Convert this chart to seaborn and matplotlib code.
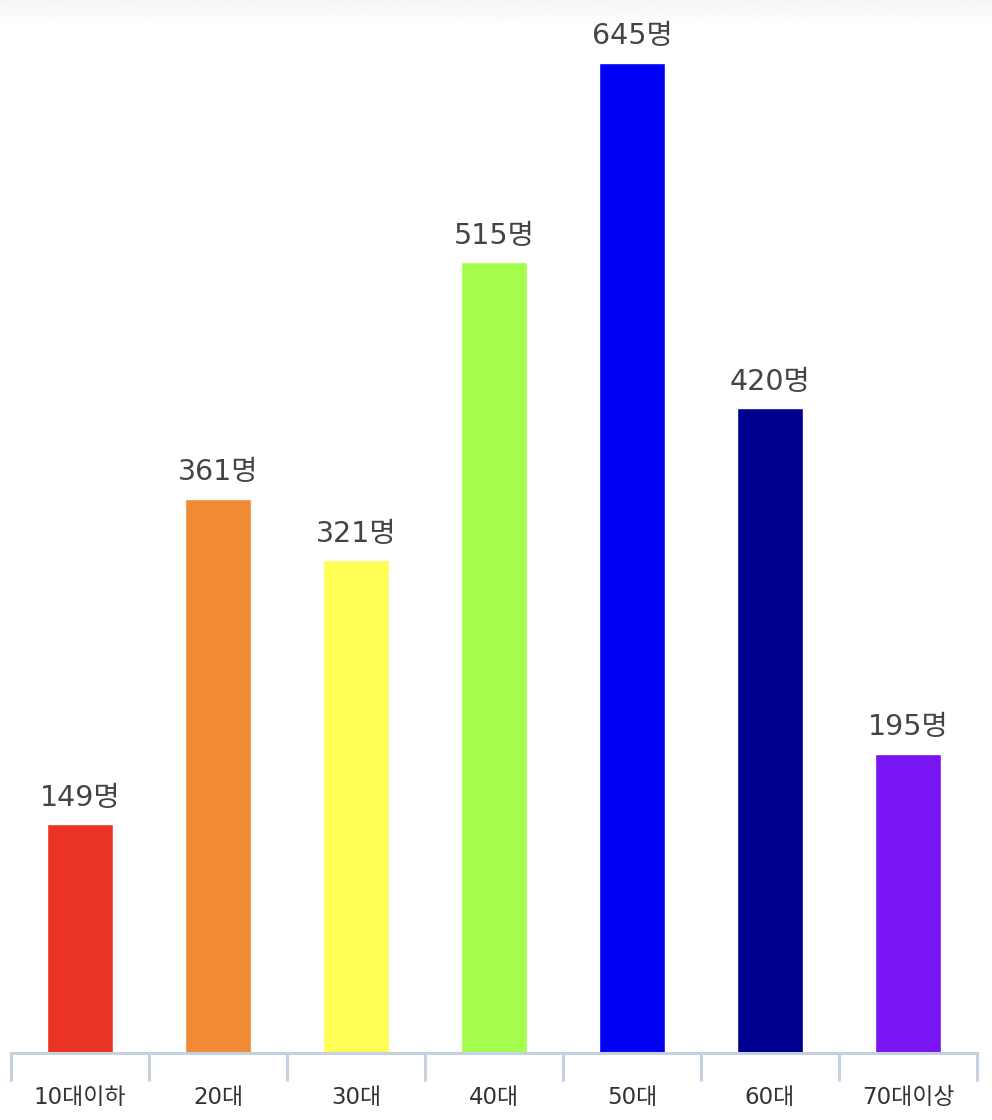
import numpy as np
import pandas as pd
import seaborn as sns
import matplotlib
matplotlib.use("Agg")
import matplotlib.pyplot as plt

categories = ['10대이하', '20대', '30대', '40대', '50대', '60대', '70대이상']
counts = [149, 361, 321, 515, 645, 420, 195]
colors = ['#EA3323', '#F08A34', '#FFFF55', '#A4FC4D', '#0000F5', '#000090', '#7816F3']

sns.set_style('white')
plt.rcParams['font.family'] = ['DejaVu Sans', 'Noto Sans CJK KR']

df = pd.DataFrame({'age': categories, 'count': counts})

fig = plt.figure(figsize=(9.92, 11.2), dpi=100)

# faint gray band at the top
top = fig.add_axes([0, 1 - 28 / 1120, 1, 28 / 1120])
grad = np.linspace(0.965, 1.0, 50).reshape(-1, 1)
top.imshow(grad, aspect='auto', cmap='gray', vmin=0, vmax=1, extent=[0, 1, 0, 1])
top.axis('off')

ax = fig.add_axes([11 / 992, 67 / 1120, 966 / 992, 1053 / 1120])
ax.patch.set_alpha(0)
sns.barplot(data=df, x='age', y='count', hue='age', palette=colors,
            width=0.48, legend=False, ax=ax, saturation=1)

ax.set_xlim(-0.5, 6.5)
ax.set_ylim(0, 686)
for c in ax.containers:
    ax.bar_label(c, labels=[f'{int(v)}명' for v in c.datavalues], padding=9,
                 fontsize=20.5, color='#444444')

for s in ['top', 'right', 'left']:
    ax.spines[s].set_visible(False)
ax.spines['bottom'].set_color('#c5d0e0')
ax.spines['bottom'].set_linewidth(2.2)
ax.set_yticks([])
ax.set_xlabel('')
ax.set_ylabel('')

ax.set_xticks(np.arange(-0.5, 7, 1), minor=True)
ax.tick_params(axis='x', which='minor', bottom=True, length=20, width=2.2,
               color='#c5d0e0', direction='out')
ax.tick_params(axis='x', which='major', bottom=True, length=0, pad=24,
               labelsize=16.5, labelcolor='#333333')

fig.savefig('out.png', dpi=100)
